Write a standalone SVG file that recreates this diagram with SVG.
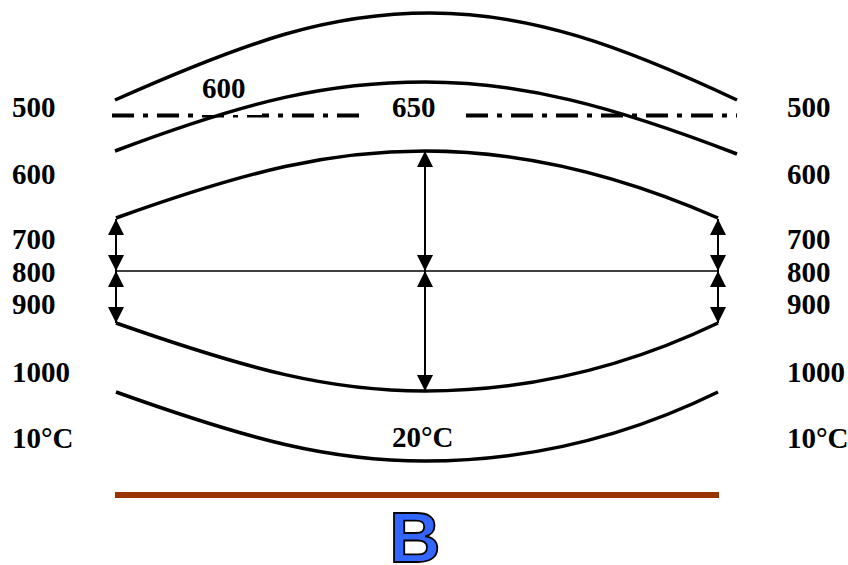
<svg xmlns="http://www.w3.org/2000/svg" width="848" height="565" viewBox="0 0 848 565">
<style>
.c{fill:none;stroke:#000;stroke-width:3.5}
.a{stroke:#000;stroke-width:2;marker-start:url(#h);marker-end:url(#h)}
.t{font-family:"Liberation Serif",serif;font-weight:bold;font-size:29px;fill:#000}
</style>
<defs>
<marker id="h" viewBox="0 0 16 16" refX="16" refY="8" markerWidth="16" markerHeight="16" markerUnits="userSpaceOnUse" orient="auto-start-reverse"><path d="M0,0L16,8L0,16z" fill="#000"/></marker>
</defs>
<rect width="848" height="565" fill="#fff"/>
<g id="dashline">
<path d="M112,115.5H364M466,115.5H737" stroke="#000" stroke-width="4" stroke-dasharray="22 9 5 9"/>
<rect x="196" y="100" width="66" height="15" fill="#fff"/>
</g>
<g id="curves">
<path class="c" d="M115,100 C250,40 330,13 430,13 C530,13 620,45 737,100"/>
<path class="c" d="M115,151 C250,100 330,82 425,82 C520,82 610,105 737,154"/>
<path class="c" d="M116,218 C250,170 330,151 425,151 C520,151 620,175 718,218"/>
<path class="c" d="M116,323 C250,370 330,391 425,391 C520,391 620,370 718,323"/>
<path class="c" d="M116,392 C250,440 330,461 425,461 C520,461 620,440 718,392"/>
</g>
<g id="connectors">
<line x1="116" y1="271" x2="718" y2="271" stroke="#000" stroke-width="1.3"/>
<line class="a" x1="116" y1="219" x2="116" y2="271"/>
<line class="a" x1="116" y1="271" x2="116" y2="323"/>
<line class="a" x1="718" y1="219" x2="718" y2="271"/>
<line class="a" x1="718" y1="271" x2="718" y2="323"/>
<line class="a" x1="425" y1="151" x2="425" y2="271"/>
<line class="a" x1="425" y1="271" x2="425" y2="391"/>
</g>
<g id="labels-left">
<text class="t" x="12" y="117">500</text>
<text class="t" x="12" y="184">600</text>
<text class="t" x="12" y="249">700</text>
<text class="t" x="12" y="282">800</text>
<text class="t" x="12" y="314">900</text>
<text class="t" x="12" y="382">1000</text>
<text class="t" x="12" y="448">10°C</text>
</g>
<g id="labels-right">
<text class="t" x="787" y="117">500</text>
<text class="t" x="787" y="184">600</text>
<text class="t" x="787" y="249">700</text>
<text class="t" x="787" y="282">800</text>
<text class="t" x="787" y="314">900</text>
<text class="t" x="787" y="382">1000</text>
<text class="t" x="787" y="448">10°C</text>
</g>
<g id="labels-inner">
<text class="t" x="202" y="98">600</text>
<text class="t" x="392" y="117">650</text>
<text class="t" x="392" y="447">20°C</text>
</g>
<g id="ground">
<line x1="115" y1="495" x2="719" y2="495" stroke="#993300" stroke-width="6"/>
</g>
<g id="B">
<text x="415" y="562" font-family="Liberation Sans,sans-serif" font-weight="900" font-size="71" fill="#3366FF" stroke="#000" stroke-width="1.8" text-anchor="middle">B</text>
</g>
</svg>
